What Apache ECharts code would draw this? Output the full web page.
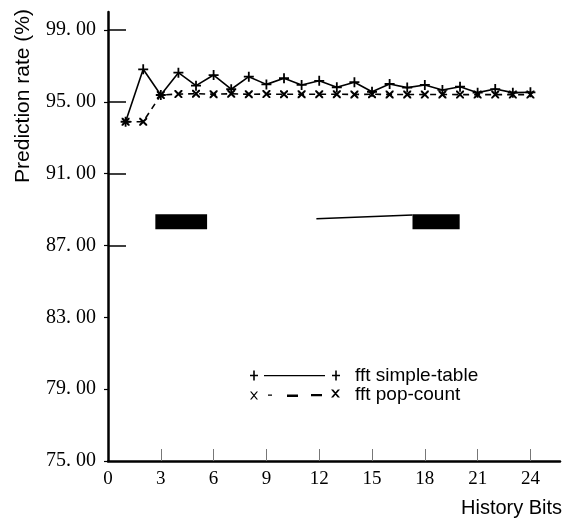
<!DOCTYPE html>
<html>
<head>
<meta charset="utf-8">
<script src="https://cdn.jsdelivr.net/npm/echarts@6/dist/echarts.min.js"></script>
<style>
  html, body { margin: 0; padding: 0; background: #fff; }
  #chart { width: 569px; height: 523px; }
</style>
</head>
<body>
<div id="chart"></div>
<script>
// History length (bits) on the x axis
const historyBits = [1, 2, 3, 4, 5, 6, 7, 8, 9, 10, 11, 12, 13, 14, 15, 16, 17, 18, 19, 20, 21, 22, 23, 24];

// Prediction rate (%) per predictor
const simpleTable = [93.89, 96.81, 95.38, 96.62, 95.90, 96.49, 95.70, 96.40, 95.97, 96.31, 95.94, 96.17,
                     95.81, 96.09, 95.56, 95.99, 95.79, 95.94, 95.66, 95.84, 95.51, 95.71, 95.51, 95.53];
const popCount    = [93.89, 93.89, 95.38, 95.43, 95.45, 95.42, 95.45, 95.42, 95.43, 95.42, 95.42, 95.42,
                     95.42, 95.41, 95.42, 95.41, 95.41, 95.40, 95.41, 95.40, 95.40, 95.40, 95.40, 95.40];

// Axis tick values
const xTickLabels = [0, 3, 6, 9, 12, 15, 18, 21, 24];
const xTickMarks  = [3, 6, 9, 12, 15, 18, 21, 24];
const yTickLabels = [75, 79, 83, 87, 91, 95, 99];
const yInnerTicks = [87, 91, 95, 99];

// Solid black blocks and the thin stroke printed across the plot (x0, y0, x1, y1)
const blockA = [2.69, 88.74, 5.63, 87.90];
const blockB = [17.30, 88.74, 19.98, 87.90];
const strokeX = [11.84, 17.30];
const strokeY = [88.49, 88.70];

const seriesNames = ['fft simple-table', 'fft pop-count'];

const plusSymbol = 'path://M4.1,0h1.8v10h-1.8zM0,4.1h10v1.8h-10z';
const crossSymbol = 'path://M0,0L1.8,0L10,8.2L10,10L8.2,10L0,1.8ZM8.2,0L10,0L10,1.8L1.8,10L0,10L0,8.2Z';

// Legend keys: marker, line, marker (90 x 10 box)
const plusLineIcon = 'path://M3.2,0h1.6v10h-1.6zM0,4.2h8v1.6h-8z' +
  'M14,4.4h61v1.3h-61z' +
  'M85.2,0h1.6v10h-1.6zM82,4.2h8v1.6h-8z';
const crossDashIcon = 'path://M0,2L1.5,2L8,10L6.5,10ZM6.5,2L8,2L1.5,10L0,10Z' +
  'M18,5h4v1.3h-4z' +
  'M37,5h11v2.4h-11z' +
  'M61,4.5h11v2.2h-11z' +
  'M81,0L83.2,0L90,8L87.8,8ZM87.8,0L90,0L83.2,8L81,8Z' +
  'M89.9,9.9h0.1v0.1h-0.1z';

const pairs = (xs, ys) => xs.map((x, i) => [x, ys[i]]);

const serif = '"Liberation Serif", "DejaVu Serif", serif';
const sans = '"Liberation Sans", Arial, sans-serif';

const chart = echarts.init(document.getElementById('chart'), null, { renderer: 'canvas' });

chart.setOption({
  animation: false,
  backgroundColor: '#fff',
  grid: { left: 108, right: 9, top: 12, bottom: 62, containLabel: false },
  xAxis: {
    type: 'value',
    min: 0,
    max: 25.68,
    splitLine: { show: false },
    axisLine: { show: true, lineStyle: { color: '#000', width: 2.5 } },
    axisTick: { show: true, inside: true, length: 12, customValues: xTickMarks,
                lineStyle: { color: '#777', width: 1 } },
    axisLabel: { customValues: xTickLabels, margin: 9, color: '#000',
                 fontFamily: serif, fontSize: 19 }
  },
  yAxis: [
    {
      type: 'value',
      min: 75,
      max: 100,
      position: 'left',
      splitLine: { show: false },
      axisLine: { show: true, onZero: false, lineStyle: { color: '#000', width: 2.5 } },
      axisTick: { show: true, inside: false, length: 4, customValues: yTickLabels,
                  lineStyle: { color: '#000', width: 1.2 } },
      axisLabel: {
        customValues: yTickLabels, margin: 12, color: '#000',
        fontFamily: serif, fontSize: 20,
        formatter: v => v.toFixed(2).replace('.', '. ')
      }
    },
    {
      type: 'value',
      min: 75,
      max: 100,
      position: 'left',
      splitLine: { show: false },
      axisLine: { show: false, onZero: false },
      axisTick: { show: true, inside: true, length: 18, customValues: yInnerTicks,
                  lineStyle: { color: '#000', width: 1.5 } },
      axisLabel: { show: false }
    }
  ],
  legend: {
    orient: 'vertical',
    left: 245,
    top: 361,
    itemWidth: 90,
    itemHeight: 10,
    itemGap: 0,
    selectedMode: false,
    itemStyle: { borderWidth: 0 },
    textStyle: { fontFamily: sans, fontSize: 19, color: '#000', padding: [0, 0, 0, 10] },
    data: [
      { name: seriesNames[0], icon: plusLineIcon },
      { name: seriesNames[1], icon: crossDashIcon }
    ]
  },
  graphic: [
    {
      type: 'text',
      x: 23,
      y: 96,
      rotation: Math.PI / 2,
      style: { text: 'Prediction rate (%)', fill: '#000', font: '21px ' + sans,
               textAlign: 'center', textVerticalAlign: 'middle' }
    },
    {
      type: 'text',
      x: 461,
      y: 508,
      style: { text: 'History Bits', fill: '#000', font: '20px ' + sans,
               textAlign: 'left', textVerticalAlign: 'middle' }
    }
  ],
  series: [
    {
      name: seriesNames[0],
      type: 'line',
      data: pairs(historyBits, simpleTable),
      symbol: plusSymbol,
      symbolSize: 10,
      showAllSymbol: true,
      itemStyle: { color: '#000', borderWidth: 0 },
      lineStyle: { color: '#000', width: 1.6 },
      z: 3,
      markArea: {
        silent: true,
        itemStyle: { color: '#000', opacity: 1 },
        data: [
          [{ coord: [blockA[0], blockA[1]] }, { coord: [blockA[2], blockA[3]] }],
          [{ coord: [blockB[0], blockB[1]] }, { coord: [blockB[2], blockB[3]] }]
        ]
      }
    },
    {
      name: seriesNames[1],
      type: 'line',
      data: pairs(historyBits, popCount),
      symbol: crossSymbol,
      symbolSize: 8,
      showAllSymbol: true,
      itemStyle: { color: '#000', borderWidth: 0 },
      lineStyle: { color: '#000', width: 1.6, type: [6, 5] },
      z: 2
    },
    {
      name: 'stroke',
      type: 'line',
      data: pairs(strokeX, strokeY),
      symbol: 'none',
      silent: true,
      lineStyle: { color: '#000', width: 1.5 },
      z: 1
    }
  ]
});
</script>
</body>
</html>
